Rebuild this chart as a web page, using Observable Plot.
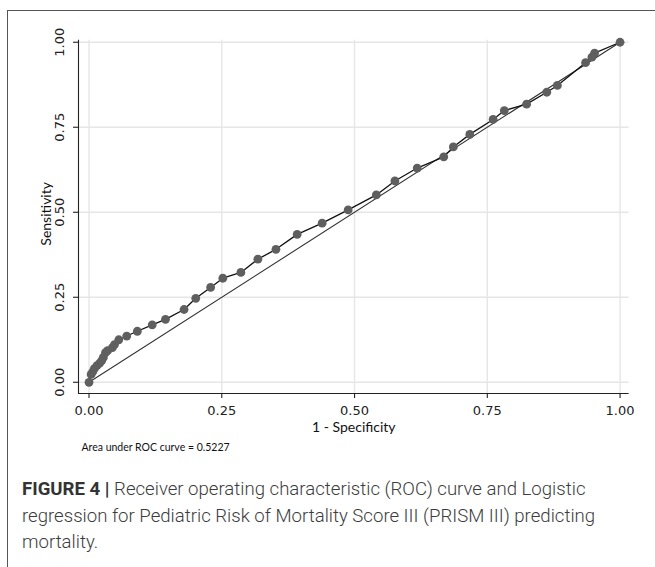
<!DOCTYPE html>
<html>
<head>
<meta charset="utf-8">
<script src="https://cdn.jsdelivr.net/npm/d3@7"></script>
<script src="https://cdn.jsdelivr.net/npm/@observablehq/plot@0.6"></script>
<style>
  html, body { margin: 0; padding: 0; background: #fff; }
  body { width: 655px; height: 567px; position: relative; overflow: hidden; }
  #frame { position: absolute; left: 7px; top: 10px; width: 700px; height: 600px;
           border-left: 1.5px solid #555; border-top: 1.5px solid #555; }
  #chart { position: absolute; left: 0; top: 0; }
  #chart svg { overflow: visible; }
  #caption { position: absolute; left: 22px; top: 476px; width: 620px;
             font-family: Roboto, "Liberation Sans", sans-serif; font-weight: 300;
             font-size: 18.6px; line-height: 26.5px; color: #3c3c3c; }
  #caption div { white-space: nowrap; }
  #caption b { font-weight: 700; color: #333; }
</style>
</head>
<body>
<div id="frame"></div>
<div id="chart"></div>
<div id="caption">
  <div><b>FIGURE 4 |</b> <span>Receiver operating characteristic (ROC) curve and Logistic</span></div>
  <div>regression for Pediatric Risk of Mortality Score III (PRISM III) predicting</div>
  <div>mortality.</div>
</div>
<script>
// 1 - Specificity (false positive rate) of each ROC point
const fpr = [0, 0.004, 0.007, 0.010, 0.015, 0.020, 0.024, 0.027, 0.031, 0.035, 0.044, 0.048,
  0.056, 0.071, 0.091, 0.119, 0.144, 0.179, 0.201, 0.229, 0.252, 0.286, 0.318, 0.352,
  0.392, 0.439, 0.488, 0.541, 0.576, 0.618, 0.668, 0.686, 0.717, 0.761, 0.782, 0.824,
  0.862, 0.882, 0.935, 0.947, 0.952, 1.0];
// Sensitivity (true positive rate) of each ROC point
const tpr = [0, 0.023, 0.031, 0.040, 0.049, 0.056, 0.064, 0.073, 0.087, 0.093, 0.102, 0.111,
  0.125, 0.136, 0.150, 0.169, 0.185, 0.214, 0.247, 0.279, 0.306, 0.323, 0.362, 0.391,
  0.435, 0.468, 0.507, 0.551, 0.592, 0.630, 0.663, 0.692, 0.729, 0.773, 0.799, 0.818,
  0.853, 0.873, 0.940, 0.956, 0.968, 1.0];
// reference (chance) line endpoints
const chanceX = [0, 1];
const chanceY = [0, 1];
const ticks = [0, 0.25, 0.5, 0.75, 1];
const tickLabels = ["0.00", "0.25", "0.50", "0.75", "1.00"];
const xTitle = "1 - Specificity";
const yTitle = "Sensitivity";
const note = "Area under ROC curve = 0.5227";

const roc = fpr.map((x, i) => ({x, y: tpr[i]}));
const chance = chanceX.map((x, i) => ({x, y: chanceY[i]}));

const xDomain = [-0.0198, 1.017];
const yDomain = [-0.033, 1.006];

const tickFont = "DejaVu Sans, Verdana, sans-serif";
const labelFont = "Lato, Carlito, Calibri, sans-serif";

const chart = Plot.plot({
  width: 655,
  height: 460,
  marginLeft: 78,
  marginRight: 26.4,
  marginTop: 39.7,
  marginBottom: 67,
  style: {background: "transparent", overflow: "visible"},
  x: {domain: xDomain},
  y: {domain: yDomain},
  marks: [
    Plot.gridX(ticks, {stroke: "#e6e6e6", strokeOpacity: 1, strokeWidth: 1.4}),
    Plot.gridY(ticks, {stroke: "#e6e6e6", strokeOpacity: 1, strokeWidth: 1.4}),
    Plot.ruleX([xDomain[0]], {stroke: "#222", strokeWidth: 1.1}),
    Plot.ruleY([yDomain[0]], {stroke: "#222", strokeWidth: 1.1}),
    Plot.axisX(ticks, {tickSize: 5, tickPadding: 7, stroke: "#222", strokeWidth: 1.1,
      tickFormat: (d, i) => tickLabels[i], fontSize: 13, fontFamily: tickFont, fill: "#222", label: null}),
    Plot.axisY(ticks, {tickSize: 5, stroke: "#222", strokeWidth: 1.1, tickFormat: () => "", label: null}),
    Plot.text(ticks, {y: d => d, text: (d, i) => tickLabels[i], frameAnchor: "left", dx: -19,
      rotate: -90, textAnchor: "middle", lineAnchor: "middle", fontSize: 13, fontFamily: tickFont, fill: "#222"}),
    Plot.line(chance, {x: "x", y: "y", stroke: "#333", strokeWidth: 1.1}),
    Plot.line(roc, {x: "x", y: "y", stroke: "#111", strokeWidth: 1.3}),
    Plot.dot(roc, {x: "x", y: "y", r: 4.4, fill: "#5f5f5f", stroke: "none"}),
    Plot.text([xTitle], {frameAnchor: "bottom", dy: 34, lineAnchor: "middle", fontSize: 14,
      fontFamily: labelFont, fill: "#111"}),
    Plot.text([yTitle], {frameAnchor: "left", dx: -32, dy: -3, rotate: -90, textAnchor: "middle",
      lineAnchor: "middle", fontSize: 14, fontFamily: labelFont, fill: "#111"}),
    Plot.text([note], {frameAnchor: "bottom-left", dx: 3, dy: 54, textAnchor: "start",
      lineAnchor: "middle", fontSize: 10.5, fontFamily: labelFont, fill: "#111"})
  ]
});
document.getElementById("chart").appendChild(chart);
</script>
</body>
</html>
